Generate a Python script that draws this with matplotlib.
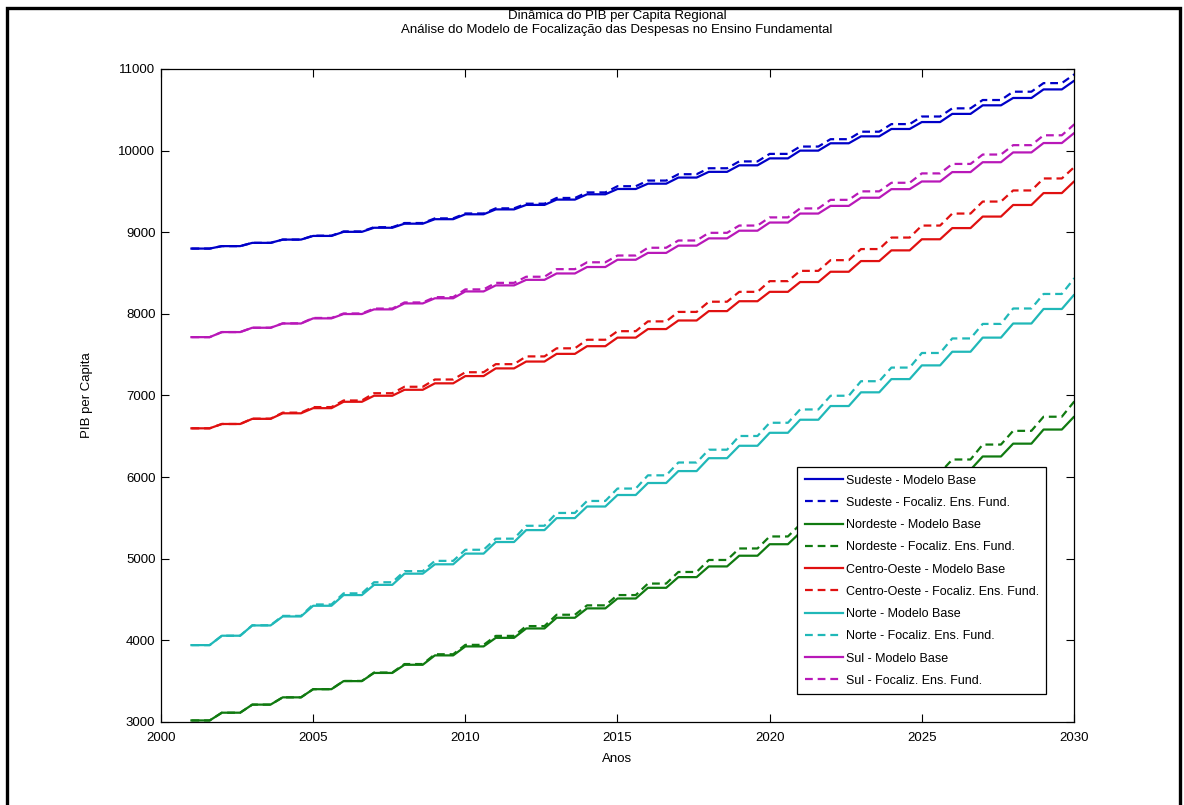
import matplotlib
matplotlib.use('Agg')
import matplotlib.pyplot as plt
from matplotlib.patches import Rectangle

plt.rcParams['font.family'] = ['Liberation Sans', 'DejaVu Sans']

# annual values (2001-2030)
years = list(range(2001, 2031))

sudeste_base = [8800, 8830, 8870, 8910, 8955, 9005, 9055, 9105, 9160, 9220,
                9280, 9335, 9400, 9465, 9530, 9595, 9670, 9740, 9820, 9905,
                10000, 10090, 10175, 10265, 10350, 10450, 10555, 10645, 10750, 10855]
sudeste_foc = [8800, 8830, 8870, 8910, 8958, 9010, 9062, 9113, 9170, 9230,
               9293, 9350, 9420, 9488, 9564, 9633, 9711, 9784, 9868, 9960,
               10050, 10140, 10232, 10325, 10418, 10518, 10620, 10722, 10827, 10932]

nordeste_base = [3019, 3114, 3213, 3302, 3402, 3501, 3601, 3701, 3816, 3926,
                 4031, 4146, 4277, 4392, 4513, 4644, 4775, 4906, 5037, 5178,
                 5320, 5470, 5620, 5780, 5940, 6090, 6253, 6410, 6583, 6740]
nordeste_foc = [3019, 3114, 3213, 3302, 3402, 3503, 3606, 3710, 3830, 3945,
                4055, 4175, 4314, 4429, 4555, 4696, 4838, 4985, 5126, 5273,
                5420, 5575, 5735, 5895, 6055, 6216, 6399, 6567, 6740, 6923]

centro_base = [6598, 6651, 6714, 6782, 6845, 6923, 6997, 7070, 7149, 7238,
               7332, 7416, 7510, 7604, 7709, 7814, 7919, 8034, 8155, 8270,
               8390, 8516, 8647, 8778, 8914, 9051, 9192, 9334, 9480, 9622]
centro_foc = [6598, 6651, 6716, 6790, 6858, 6939, 7028, 7107, 7196, 7285,
              7384, 7479, 7578, 7683, 7788, 7908, 8024, 8149, 8270, 8401,
              8527, 8658, 8794, 8935, 9082, 9229, 9376, 9512, 9659, 9795]

norte_base = [3942, 4057, 4183, 4293, 4424, 4555, 4680, 4817, 4932, 5063,
              5205, 5351, 5498, 5640, 5781, 5928, 6074, 6232, 6384, 6543,
              6703, 6871, 7039, 7201, 7369, 7536, 7709, 7882, 8060, 8233]
norte_foc = [3942, 4057, 4185, 4300, 4440, 4576, 4712, 4848, 4974, 5110,
             5246, 5404, 5561, 5708, 5860, 6022, 6179, 6336, 6504, 6666,
             6829, 6997, 7175, 7342, 7521, 7699, 7877, 8066, 8244, 8432]

sul_base = [7715, 7777, 7830, 7882, 7945, 7998, 8055, 8128, 8191, 8275,
            8349, 8417, 8495, 8574, 8663, 8747, 8836, 8925, 9019, 9119,
            9229, 9323, 9423, 9528, 9622, 9737, 9858, 9978, 10093, 10214]
sul_foc = [7715, 7777, 7830, 7884, 7950, 8005, 8065, 8140, 8205, 8300,
           8380, 8455, 8548, 8632, 8715, 8810, 8899, 8993, 9082, 9182,
           9292, 9397, 9501, 9606, 9721, 9837, 9952, 10067, 10188, 10319]

regions = ['Sudeste', 'Nordeste', 'Centro-Oeste', 'Norte', 'Sul']
base_series = [sudeste_base, nordeste_base, centro_base, norte_base, sul_base]
foc_series = [sudeste_foc, nordeste_foc, centro_foc, norte_foc, sul_foc]
colors = ['#0000c8', '#107a10', '#e01010', '#20b8b8', '#b818b8']


def steps(vals, flat=0.6):
    # each annual value is held for part of the year, then ramps to the next
    xs, ys = [], []
    for yr, v in zip(years, vals):
        xs += [yr, yr + flat]
        ys += [v, v]
    return xs, ys


fig = plt.figure(figsize=(11.84, 8.05), dpi=100)
ax = fig.add_axes([161 / 1184, 1 - 722 / 805, 913 / 1184, 653 / 805])

for name, b, f, c in zip(regions, base_series, foc_series, colors):
    xb, yb = steps(b)
    xf, yf = steps(f)
    ax.plot(xb, yb, color=c, lw=1.6, label=name + ' - Modelo Base')
    ax.plot(xf, yf, color=c, lw=1.6, dashes=(3.5, 2.2),
            label=name + ' - Focaliz. Ens. Fund.')

ax.set_xlim(2000, 2030)
ax.set_ylim(3000, 11000)
ax.set_xticks(range(2000, 2031, 5))
ax.set_yticks(range(3000, 11001, 1000))
ax.tick_params(direction='in', length=6, width=0.8, top=True, right=True,
               labelsize=9.5)
ax.tick_params(axis='x', pad=7)
ax.tick_params(axis='y', pad=4)
for s in ax.spines.values():
    s.set_linewidth(0.9)

ax.set_xlabel('Anos', fontsize=9.5, labelpad=7)
ax.set_ylabel('PIB per Capita', fontsize=9.5, labelpad=18)

fig.text(617 / 1184, 1 - 16 / 805, 'Dinâmica do PIB per Capita Regional',
         ha='center', va='center', fontsize=9.5)
fig.text(617 / 1184, 1 - 30 / 805,
         'Análise do Modelo de Focalização das Despesas no Ensino Fundamental',
         ha='center', va='center', fontsize=9.5)

leg = ax.legend(loc='upper left', bbox_to_anchor=(797 / 1184, 1 - 467 / 805),
                bbox_transform=fig.transFigure, fontsize=9, fancybox=False,
                framealpha=1, edgecolor='black', handlelength=3.1,
                handletextpad=0.2, labelspacing=0.82, borderpad=0.6,
                borderaxespad=0)
leg.get_frame().set_linewidth(0.9)

# black frame around the whole picture
fig.add_artist(Rectangle((7 / 1184, -0.02), 1173 / 1184, 1.02 - 8 / 805,
                         transform=fig.transFigure, fill=False,
                         lw=2.4, ec='black'))

plt.savefig('out.png', dpi=100)
